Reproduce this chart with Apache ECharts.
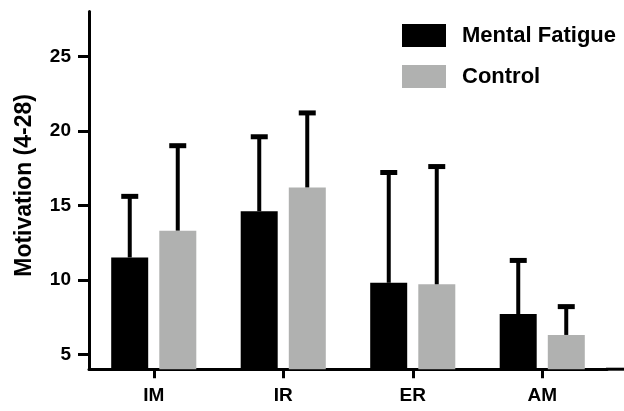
<!DOCTYPE html>
<html>
<head>
<meta charset="utf-8">
<script src="https://cdn.jsdelivr.net/npm/echarts@6/dist/echarts.min.js"></script>
<style>
html,body{margin:0;padding:0;background:#fff;}
#main{width:624px;height:411px;}
</style>
</head>
<body>
<div id="main"></div>
<script>
var categories = ['IM', 'IR', 'ER', 'AM'];
var fatigueMean = [11.5, 14.6, 9.8, 7.7];
var fatigueUpper = [15.6, 19.6, 17.2, 11.3];
var controlMean = [13.3, 16.2, 9.7, 6.3];
var controlUpper = [19.0, 21.2, 17.6, 8.2];
var yTicks = [5, 10, 15, 20, 25];

var FONT = '"Liberation Sans", Arial, sans-serif';
var chart = echarts.init(document.getElementById('main'), null, {renderer: 'canvas'});

function errData(means, uppers) {
  return categories.map(function (c, i) { return [i, means[i], uppers[i]]; });
}
function makeErr(offset) {
  return function (params, api) {
    var idx = api.value(0);
    var base = api.coord([idx, api.value(1)]);
    var top = api.coord([idx, api.value(2)]);
    var x = base[0] + offset;
    return {
      type: 'group',
      children: [
        {type: 'rect', shape: {x: x - 2, y: top[1], width: 4, height: base[1] - top[1]}, style: {fill: '#000'}},
        {type: 'rect', shape: {x: x - 8.5, y: top[1] - 2.5, width: 17, height: 5}, style: {fill: '#000'}}
      ]
    };
  };
}

chart.setOption({
  animation: false,
  backgroundColor: '#fff',
  grid: {left: 89, top: 11.6, width: 518, bottom: 41.8, containLabel: false},
  legend: {
    orient: 'vertical', left: 402, top: 24, padding: 0,
    itemWidth: 44, itemHeight: 23, itemGap: 18, icon: 'rect',
    textStyle: {fontFamily: FONT, fontWeight: 'bold', fontSize: 22, color: '#000', padding: [0, 0, 0, 11]},
    data: ['Mental Fatigue', 'Control']
  },
  xAxis: {
    type: 'category', data: categories,
    axisLine: {lineStyle: {color: '#000', width: 3}},
    axisTick: {show: true, alignWithLabel: true, length: 9, lineStyle: {color: '#000', width: 3}},
    axisLabel: {fontFamily: FONT, fontWeight: 'bold', fontSize: 19, color: '#000', margin: 17}
  },
  yAxis: {
    type: 'value', min: 4, max: 28,
    name: 'Motivation (4-28)', nameLocation: 'middle', nameGap: 53,
    nameTextStyle: {fontFamily: FONT, fontWeight: 'bold', fontSize: 23, color: '#000', padding: [0, 0, 0, 10]},
    axisLine: {show: true, lineStyle: {color: '#000', width: 3}},
    axisTick: {show: true, length: 11, lineStyle: {color: '#000', width: 3},
      customValues: yTicks},
    axisLabel: {fontFamily: FONT, fontWeight: 'bold', fontSize: 19, color: '#000', margin: 18,
      customValues: yTicks},
    splitLine: {show: false}
  },
  graphic: [
    {type: 'line', shape: {x1: 606, y1: 369.2, x2: 624, y2: 369.2}, style: {stroke: '#000', lineWidth: 3}}
  ],
  series: [
    {name: 'Mental Fatigue', type: 'bar', data: fatigueMean, barWidth: 37, barGap: '30%',
      itemStyle: {color: '#000'}},
    {name: 'Control', type: 'bar', data: controlMean, barWidth: 37, barGap: '30%',
      itemStyle: {color: '#B0B1B0'}},
    {type: 'custom', data: errData(fatigueMean, fatigueUpper), renderItem: makeErr(-24), z: 3,
      encode: {x: 0, y: [1, 2]}},
    {type: 'custom', data: errData(controlMean, controlUpper), renderItem: makeErr(24), z: 3,
      encode: {x: 0, y: [1, 2]}}
  ]
});
</script>
</body>
</html>
